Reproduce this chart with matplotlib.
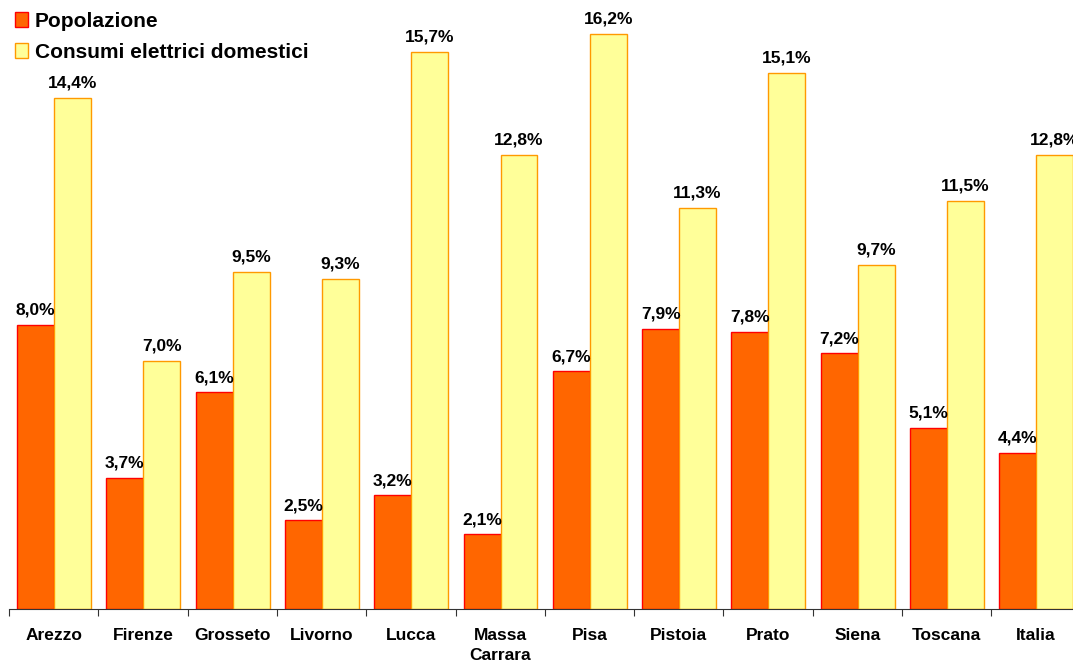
import matplotlib
matplotlib.use("Agg")
import matplotlib.pyplot as plt
import numpy as np

categories = ["Arezzo", "Firenze", "Grosseto", "Livorno", "Lucca", "Massa\nCarrara",
              "Pisa", "Pistoia", "Prato", "Siena", "Toscana", "Italia"]
popolazione = [8.0, 3.7, 6.1, 2.5, 3.2, 2.1, 6.7, 7.9, 7.8, 7.2, 5.1, 4.4]
consumi = [14.4, 7.0, 9.5, 9.3, 15.7, 12.8, 16.2, 11.3, 15.1, 9.7, 11.5, 12.8]

plt.rcParams["font.family"] = ["Liberation Sans", "DejaVu Sans"]
plt.rcParams["font.weight"] = "bold"

W, H = 1073, 665
fig = plt.figure(figsize=(W / 100, H / 100), dpi=100)
ax_left = 9 / W
ax_width = 12 * 89.3 / W
ax_bottom = 1 - 609 / H
ymax = 17.0
ax_top_px = 609 - ymax * 35.5
ax = fig.add_axes([ax_left, ax_bottom, ax_width, (609 - ax_top_px) / H])

x = np.arange(len(categories))
bw = 0.414
off = 0.09
b1 = ax.bar(x + off, popolazione, width=bw, align="edge", color="#FF6600",
            edgecolor="#FF0000", linewidth=1.0, label="Popolazione")
b2 = ax.bar(x + off + bw, consumi, width=bw, align="edge", color="#FFFF99",
            edgecolor="#FF9900", linewidth=1.0, label="Consumi elettrici domestici")

def fmt(v):
    return f"{v:.1f}".replace(".", ",") + "%"

for xi, v in zip(x + off + bw / 2, popolazione):
    ax.text(xi, v + 0.2, fmt(v), ha="center", va="bottom", fontsize=12.5, fontweight="bold")
for xi, v in zip(x + off + 1.5 * bw, consumi):
    ax.text(xi, v + 0.2, fmt(v), ha="center", va="bottom", fontsize=12.5, fontweight="bold")

ax.set_xlim(0, len(categories))
ax.set_ylim(0, ymax)
ax.set_yticks([])
for s in ["left", "right", "top"]:
    ax.spines[s].set_visible(False)
ax.spines["bottom"].set_color("#333333")
ax.set_xticks(np.arange(len(categories) + 1))
ax.set_xticklabels([])
ax.tick_params(axis="x", direction="out", length=5, color="#333333")
ax.set_xticks(x + 0.5, minor=True)
ax.set_xticklabels(categories, minor=True, fontsize=12.5, fontweight="bold", va="top",
                   linespacing=1.4)
ax.tick_params(axis="x", which="minor", length=0, pad=14)

leg = fig.legend(handles=[b1, b2], loc="upper left", bbox_to_anchor=(0.002, 1.001),
                 frameon=False, prop={"weight": "bold", "size": 15},
                 handlelength=0.62, handleheight=0.75, handletextpad=0.35,
                 labelspacing=0.58, borderaxespad=0.2)

fig.savefig("out.png", dpi=100)
